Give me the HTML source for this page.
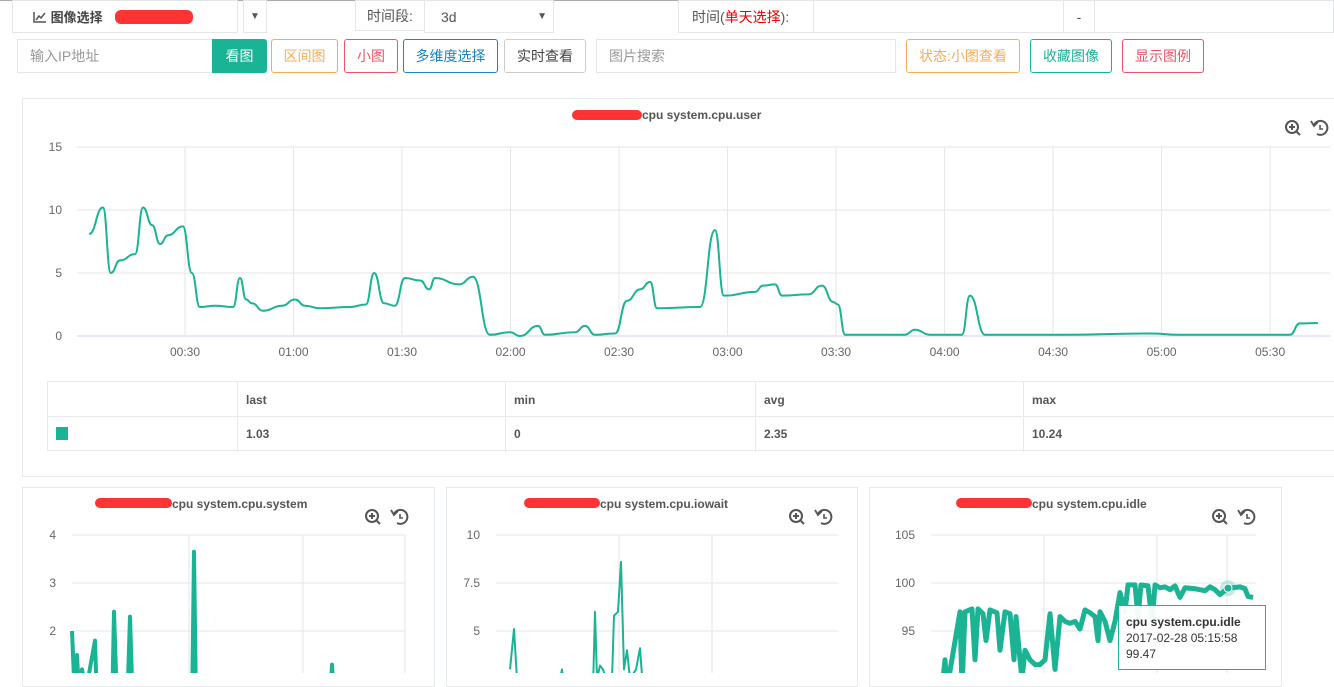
<!DOCTYPE html>
<html><head><meta charset="utf-8">
<style>
*{box-sizing:border-box}
body{margin:0;width:1334px;height:673px;overflow:hidden;background:#fff;font-family:"Liberation Sans","Noto Sans CJK SC",sans-serif;color:#555;position:relative}
.abs{position:absolute}
.box{position:absolute;border:1px solid #e5e6e7;background:#fff;font-size:14px;display:flex;align-items:center}
.btn{position:absolute;top:39px;height:34px;border:1px solid;border-radius:3px;font-size:14px;display:flex;align-items:center;justify-content:center;background:#fff}
.panel{position:absolute;border:1px solid #e7eaec;background:#fff}
.blob{position:absolute;height:10px;background:#f33;border-radius:6px}
.ttl{position:absolute;font-size:12px;font-weight:bold;color:#555}
svg text{font-family:"Liberation Sans",sans-serif}
</style></head><body>
<div class="abs" style="left:0;top:0;width:1334px;height:1px;background:#aaa"></div>
<div class="box" style="left:12px;top:0;width:226px;height:33px;padding-left:20px;font-weight:bold;font-size:13px;color:#444">
<svg width="14" height="12" viewBox="0 0 14 12"><path d="M1 1V11H13" stroke="#555" fill="none" stroke-width="1.5"/><path d="M3 9L6 5L8 7L12 2" stroke="#555" fill="none" stroke-width="1.5"/></svg>&nbsp;图像选择</div>
<div class="blob" style="left:115px;top:10px;width:78px;height:14px"></div>
<div class="box" style="left:243px;top:0;width:24px;height:33px;justify-content:center;font-size:10px">▼</div>
<div class="box" style="left:355px;top:0;width:70px;height:31px;justify-content:center">时间段:</div>
<div class="box" style="left:424px;top:0;width:130px;height:33px;padding-left:16px">3d<span style="position:absolute;right:6px;font-size:10px">▼</span></div>
<div class="box" style="left:678px;top:0;width:136px;height:33px;padding-left:13px">时间(<span style="color:#e00">单天选择</span>):</div>
<div class="box" style="left:813px;top:0;width:251px;height:33px"></div>
<div class="box" style="left:1063px;top:0;width:32px;height:33px;justify-content:center">-</div>
<div class="box" style="left:1094px;top:0;width:240px;height:33px"></div>
<div class="box" style="left:17px;top:39px;width:196px;height:34px;padding-left:12px;color:#999">输入IP地址</div>
<div class="btn" style="left:212px;width:55px;background:#1ab394;border-color:#1ab394;color:#fff;border-radius:0 3px 3px 0">看图</div>
<div class="btn" style="left:271px;width:67px;border-color:#f8ac59;color:#f8ac59">区间图</div>
<div class="btn" style="left:344px;width:54px;border-color:#ed5565;color:#ed5565">小图</div>
<div class="btn" style="left:403px;width:95px;border-color:#1c84c6;color:#1c84c6">多维度选择</div>
<div class="btn" style="left:504px;width:82px;border-color:#ccc;color:#444">实时查看</div>
<div class="box" style="left:596px;top:39px;width:300px;height:34px;padding-left:12px;color:#999">图片搜索</div>
<div class="btn" style="left:906px;width:114px;border-color:#f8ac59;color:#f8ac59">状态:小图查看</div>
<div class="btn" style="left:1030px;width:82px;border-color:#1ab394;color:#1ab394">收藏图像</div>
<div class="btn" style="left:1122px;width:82px;border-color:#ed5565;color:#ed5565">显示图例</div>

<div class="panel" style="left:22px;top:98px;width:1320px;height:379px"></div>
<div class="blob" style="left:572px;top:110px;width:70px"></div>
<div class="ttl" style="left:642px;top:108px">cpu system.cpu.user</div>

<svg class="abs" style="left:0;top:0" width="1334" height="673">
<g id="main"></g><g id="s1"></g><g id="s2"></g><g id="s3"></g><g id="icons"></g>
</svg>

<div class="abs" style="left:47px;top:381px;width:1290px;height:70px;border:1px solid #e7eaec;font-size:12px;font-weight:bold;color:#555">
<div class="abs" style="left:0;top:34px;width:1290px;height:1px;background:#e7eaec"></div>
<div class="abs" style="left:189px;top:0;width:1px;height:70px;background:#e7eaec"></div>
<div class="abs" style="left:457px;top:0;width:1px;height:70px;background:#e7eaec"></div>
<div class="abs" style="left:707px;top:0;width:1px;height:70px;background:#e7eaec"></div>
<div class="abs" style="left:975px;top:0;width:1px;height:70px;background:#e7eaec"></div>
<div class="abs" style="left:198px;top:11px">last</div>
<div class="abs" style="left:466px;top:11px">min</div>
<div class="abs" style="left:716px;top:11px">avg</div>
<div class="abs" style="left:984px;top:11px">max</div>
<div class="abs" style="left:8px;top:45px;width:12px;height:13px;background:#1ab394"></div>
<div class="abs" style="left:198px;top:45px">1.03</div>
<div class="abs" style="left:466px;top:45px">0</div>
<div class="abs" style="left:716px;top:45px">2.35</div>
<div class="abs" style="left:984px;top:45px">10.24</div>
</div>

<div class="panel" style="left:22px;top:487px;width:413px;height:200px;z-index:-1"></div>
<div class="panel" style="left:446px;top:487px;width:412px;height:200px;z-index:-1"></div>
<div class="panel" style="left:869px;top:487px;width:413px;height:200px;z-index:-1"></div>
<div class="blob" style="left:95px;top:498px;width:77px"></div>
<div class="ttl" style="left:172px;top:497px">cpu system.cpu.system</div>
<div class="blob" style="left:524px;top:498px;width:76px"></div>
<div class="ttl" style="left:600px;top:497px">cpu system.cpu.iowait</div>
<div class="blob" style="left:956px;top:498px;width:76px"></div>
<div class="ttl" style="left:1032px;top:497px">cpu system.cpu.idle</div>

<div class="abs" style="left:1118px;top:605px;width:148px;height:65px;border:1px solid #1ab394;background:rgba(255,255,255,.95);font-size:12px;color:#333;padding:8px 0 0 7px;line-height:16px">
<b>cpu system.cpu.idle</b><br>2017-02-28 05:15:58<br>99.47</div>

<script>
// main chart data (minutes since 00:00, cpu user)
const mainTimes=[3.5,7.3,9.5,12,16.2,18.4,20.9,23.1,25.3,29.4,31.9,34.1,38.3,43.3,45.2,46.9,48.5,51.6,56.8,60.4,63.2,67.3,75.6,80,82.3,85,88,90.8,95,97.5,99.1,105.8,109.6,114.3,119.9,122.6,127.6,129.5,137.8,140.6,143.3,148.9,152.2,155.8,158.6,160.5,172.4,176.5,179,187.6,189.8,193.1,195.1,202.3,206.1,209.2,210.5,212.5,229,231.8,236,244.8,247,251.2,271.9,296.8,305.1,335.5,338.2,343.2];
const mainValues=[8.1,10.2,5.0,6,6.5,10.2,8.8,7.3,8,8.7,5,2.3,2.4,2.3,4.6,2.9,2.6,2,2.4,2.9,2.4,2.2,2.3,2.5,5,2.6,2.4,4.6,4.4,3.7,4.6,4.1,4.7,0.1,0.3,0,0.8,0.1,0.3,0.8,0.1,0.2,2.8,3.7,4.3,2.2,2.3,8.4,3.2,3.5,4,4.1,3.2,3.3,4,2.7,2.5,0.1,0.1,0.5,0.1,0.1,3.2,0.1,0.1,0.2,0.1,0.1,1.0,1.03];
const mainYTicks=[0,5,10,15];
const mainXTicks=[30,60,90,120,150,180,210,240,270,300,330];
const mainXLabels=["00:30","01:00","01:30","02:00","02:30","03:00","03:30","04:00","04:30","05:00","05:30"];
// small charts (sample index across window)
const sysTimes=[0,2,4,5,7,10,13,16,23,25,28,40,42,45,55,58,61,78,120,122,124,138,258,260,262,308];
const sysValues=[2.0,1.0,0.5,1.5,0.7,1.2,0.8,1.0,1.8,0.5,0.2,0.3,2.4,0.5,0.3,2.3,0.3,0.5,0.3,3.65,0.5,0.4,0.5,1.3,0.5,0.3];
const sysYTicks=[2,3,4];
const ioTimes=[14,18,21,24,64,66,68,97,99,101,104,107,110,116,118,122,125,128,131,134,140,144,147,204,229,231];
const ioValues=[3,5.1,2.5,2,2.5,3,2,2,6,2.5,3.2,3.0,2.5,2.5,5.8,6,8.6,3,4,2.5,3,4.1,2,2,2.5,2.0];
const ioYTicks=[5,7.5,10];
const idleTimes=[12,14,16,29,31,34,41,44,47,52,55,59,66,69,74,79,83,85,89,91,94,99,104,109,114,119,124,129,134,139,144,149,154,159,164,167,169,174,179,184,189,194,197,204,207,210,217,221,224,229,234,239,244,249,254,264,274,279,284,289,297,309,314,317,322];
const idleValues=[90,92,89,97,89,97,97.3,92,97.3,96.8,94,97.2,96.9,93,97,96.8,92,96.5,92,90,93,92,91.5,91.5,92,96.8,91,96.5,96,95.8,96,95.2,97.2,96.9,96.5,94,97,96,94,96,99,97,99.8,99.8,96.5,99.8,99.7,96,99.8,99.5,99.6,99.3,99.7,98.5,99.5,99.4,99.2,99.6,99.3,98.8,99.47,99.6,99.4,98.6,98.5];
const idleYTicks=[95,100,105];

const NS="http://www.w3.org/2000/svg";
function mk(parent,tag,attrs){const e=document.createElementNS(NS,tag);for(const k in attrs)e.setAttribute(k,attrs[k]);parent.appendChild(e);return e;}
function smooth(pts){let d="M"+pts[0][0]+","+pts[0][1];for(let i=1;i<pts.length;i++){const p0=pts[i-1],p1=pts[i],mx=(p0[0]+p1[0])/2;d+=" C"+mx+","+p0[1]+" "+mx+","+p1[1]+" "+p1[0]+","+p1[1];}return d;}

// main
(function(){
 const g=document.getElementById('main');
 const x=t=>76.5+t*3.617, y=v=>336-v*12.6;
 mainYTicks.forEach(v=>{
  const l=mk(g,'line',{x1:77,x2:1330,y1:y(v),y2:y(v),stroke:v===0?'#ccd6eb':'#e6e6e6'});
  
  
  const t=mk(g,'text',{x:62,y:y(v)+4,'text-anchor':'end','font-size':12,fill:'#666'});t.textContent=v;
  
  
 });
 mainXTicks.forEach((m,i)=>{
  const l=mk(g,'line',{x1:x(m),x2:x(m),y1:147,y2:336,stroke:'#e6e6e6'});
  
  
  const t=mk(g,'text',{x:x(m),y:356,'text-anchor':'middle','font-size':12,fill:'#666'});t.textContent=mainXLabels[i];
  
  
 });
 const p=mk(g,'path',{d:smooth(mainTimes.map((t,i)=>[x(t),y(mainValues[i])])),fill:'none',stroke:'#1ab394','stroke-width':2});
 
 
})();

function small(id,left,right,times,vals,ticks,top,step,vlines,width,name){
 const g=document.getElementById(id);
 const t0=ticks[ticks.length-1],dv=ticks[1]-ticks[0];
 const y=v=>top+(t0-v)/dv*step;
 const x=t=>left+t;
 ticks.forEach(v=>{
  const l=mk(g,'line',{x1:left,x2:right,y1:y(v),y2:y(v),stroke:'#e6e6e6'});
  
  
  const t=mk(g,'text',{x:left-16,y:y(v)+4,'text-anchor':'end','font-size':12,fill:'#666'});t.textContent=v;
  
  
 });
 vlines.forEach(vx=>{
  const l=mk(g,'line',{x1:vx,x2:vx,y1:top,y2:680,stroke:'#e6e6e6'});
  
  
 });
 const p=mk(g,'path',{d:'M'+times.map((t,i)=>x(t)+','+y(vals[i])).join(' L'),fill:'none',stroke:'#1ab394','stroke-width':width,'stroke-linejoin':'round'});
 
 
 return {x,y};
}
small('s1',72,405,sysTimes,sysValues,sysYTicks,535,48,[189,303,405],4,'system');
small('s2',496,838,ioTimes,ioValues,ioYTicks,535,48,[619,712],2,'iowait');
const idl=small('s3',931,1256,idleTimes,idleValues,idleYTicks,535,48,[1044,1157,1227],5,'idle');
(function(){
 const g=document.getElementById('s3');
 const hi=idleTimes.indexOf(297);
 const c=mk(g,'circle',{cx:idl.x(idleTimes[hi]),cy:idl.y(idleValues[hi]),r:8,fill:'#1ab394','fill-opacity':0.25});
 
 
 const c2=mk(g,'circle',{cx:idl.x(idleTimes[hi]),cy:idl.y(idleValues[hi]),r:4,fill:'#1ab394',stroke:'#fff','stroke-width':1});
 
 
})();
// icons
(function(){
 const g=document.getElementById('icons');
 [[1293,128],[373,517],[797,517],[1220,517]].forEach(([cx,cy])=>{
  const z=mk(g,'g',{});
  
  
  mk(z,'circle',{cx:cx-1,cy:cy-1,r:6,fill:'none',stroke:'#555','stroke-width':2});
  mk(z,'path',{d:`M${cx+3},${cy+3}L${cx+7},${cy+7}M${cx-4},${cy-1}H${cx+2}M${cx-1},${cy-4}V${cy+2}`,stroke:'#555','stroke-width':2});
  const r=mk(g,'g',{});
  
  
  const rx=cx+27;
  mk(r,'path',{d:`M${rx-6},${cy-3}A7,7 0 1 1 ${rx-3},${cy+6}`,fill:'none',stroke:'#555','stroke-width':2});
  mk(r,'path',{d:`M${rx-9},${cy-7}L${rx-6},${cy-2}L${rx-2},${cy-6}`,fill:'none',stroke:'#555','stroke-width':1.8});
  mk(r,'path',{d:`M${rx},${cy-3}V${cy+1}H${rx+3}`,fill:'none',stroke:'#555','stroke-width':1.6});
 });
})();
</script>
</body></html>
